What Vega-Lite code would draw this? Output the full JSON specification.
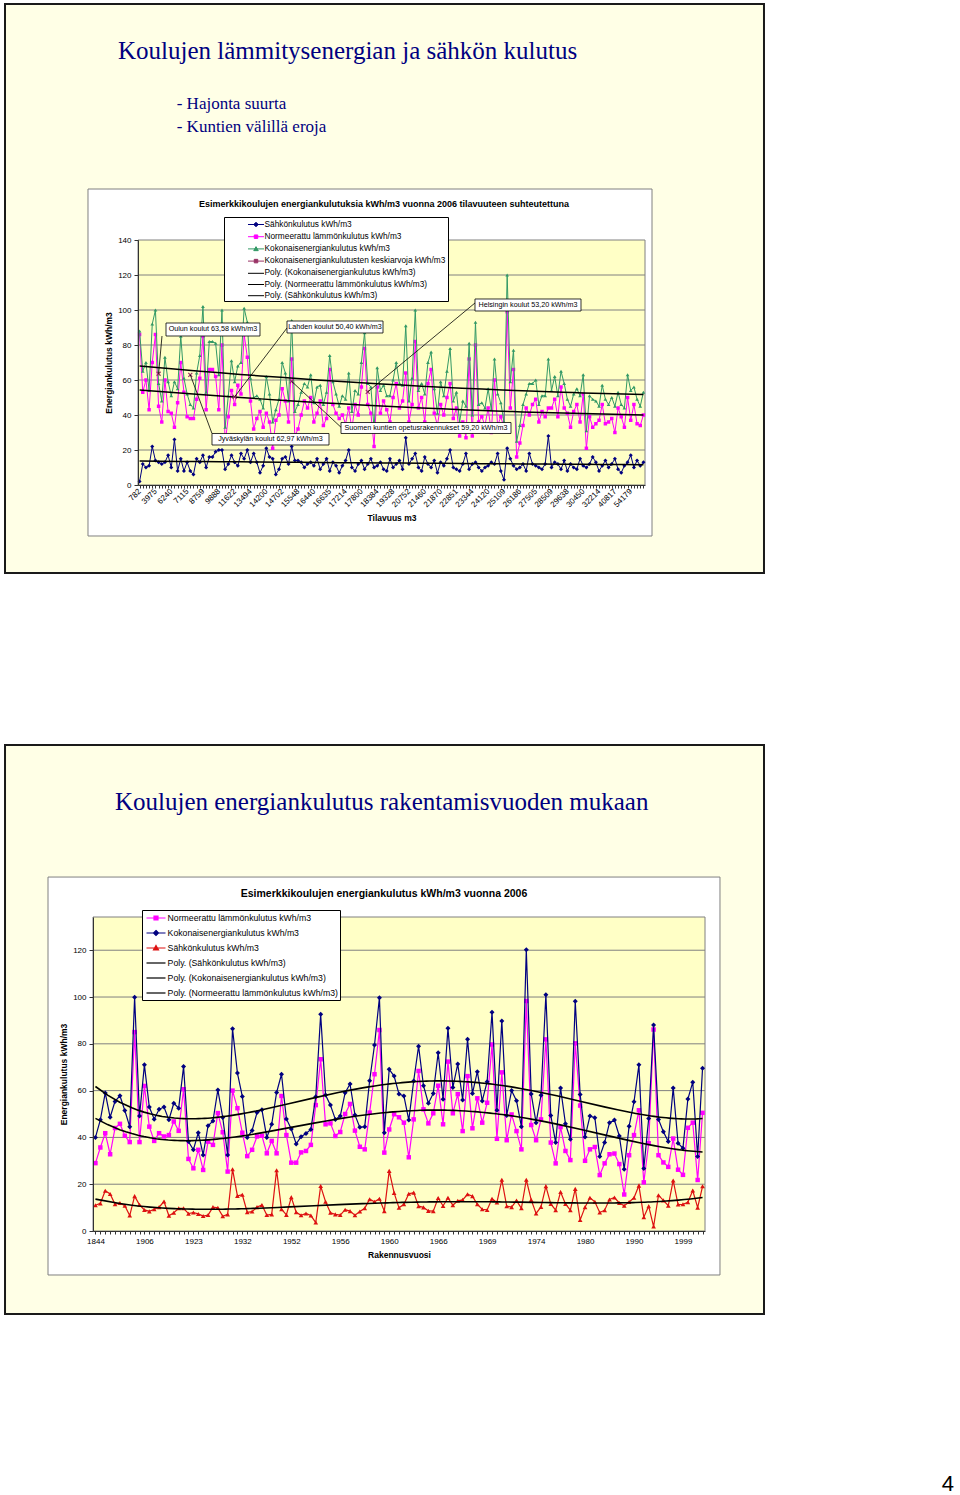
{
"$schema": "https://vega.github.io/schema/vega-lite/v6.json",
"background": "white",
"padding": {"left": 4, "top": 2, "right": 0, "bottom": 0},
"spacing": 169,
"columns": 1,
"config": {
  "view": {"stroke": null},
  "font": "Liberation Sans",
  "axis": {"zindex": 1, "grid": false, "labelOverlap": false, "labelColor": "#000", "titleColor": "#000", "titleFontWeight": "bold", "domainColor": "#333", "tickColor": "#333", "labelFont": "Liberation Sans", "titleFont": "Liberation Sans"}
},
"resolve": {"scale": {"color": "independent", "x": "independent", "y": "independent"}, "legend": {"color": "independent"}, "axis": {"x": "independent", "y": "independent"}},
"concat": [
{
  "width": 507, "height": 245,
  "data": {"values": [
{"i":0,"s":2,"l":86,"k":88},{"i":1,"s":12,"l":53,"k":65},{"i":2,"s":10,"l":60,"k":70},{"i":3,"s":11,"l":43,"k":54},{"i":4,"s":22,"l":70,"k":92},{"i":5,"s":14,"l":86,"k":100},{"i":6,"s":13,"l":45,"k":58},{"i":7,"s":12,"l":36,"k":48},{"i":8,"s":13,"l":60,"k":73},{"i":9,"s":17,"l":42,"k":59},
{"i":10,"s":10,"l":41,"k":51},{"i":11,"s":26,"l":33,"k":59},{"i":12,"s":8,"l":47,"k":55},{"i":13,"s":15,"l":70,"k":85},{"i":14,"s":8,"l":53,"k":61},{"i":15,"s":13,"l":39,"k":52},{"i":16,"s":8,"l":38,"k":46},{"i":17,"s":6,"l":38,"k":44},{"i":18,"s":15,"l":49,"k":64},{"i":19,"s":13,"l":61,"k":74},
{"i":20,"s":17,"l":85,"k":102},{"i":21,"s":10,"l":43,"k":53},{"i":22,"s":16,"l":66,"k":82},{"i":23,"s":16,"l":66,"k":82},{"i":24,"s":19,"l":62,"k":81},{"i":25,"s":20,"l":43,"k":63},{"i":26,"s":20,"l":80,"k":100},{"i":27,"s":9,"l":24,"k":33},{"i":28,"s":12,"l":39,"k":51},{"i":29,"s":17,"l":54,"k":71},
{"i":30,"s":13,"l":46,"k":59},{"i":31,"s":11,"l":57,"k":68},{"i":32,"s":18,"l":52,"k":70},{"i":33,"s":15,"l":86,"k":101},{"i":34,"s":20,"l":73,"k":93},{"i":35,"s":13,"l":48,"k":61},{"i":36,"s":18,"l":32,"k":50},{"i":37,"s":13,"l":38,"k":51},{"i":38,"s":7,"l":42,"k":49},{"i":39,"s":11,"l":33,"k":44},
{"i":40,"s":21,"l":41,"k":62},{"i":41,"s":16,"l":36,"k":52},{"i":42,"s":15,"l":21,"k":36},{"i":43,"s":6,"l":37,"k":43},{"i":44,"s":9,"l":40,"k":49},{"i":45,"s":15,"l":55,"k":70},{"i":46,"s":16,"l":48,"k":64},{"i":47,"s":12,"l":36,"k":48},{"i":48,"s":22,"l":72,"k":94},{"i":49,"s":14,"l":28,"k":42},
{"i":50,"s":14,"l":32,"k":46},{"i":51,"s":13,"l":40,"k":53},{"i":52,"s":10,"l":48,"k":58},{"i":53,"s":12,"l":44,"k":56},{"i":54,"s":13,"l":50,"k":63},{"i":55,"s":11,"l":36,"k":47},{"i":56,"s":15,"l":41,"k":56},{"i":57,"s":9,"l":48,"k":57},{"i":58,"s":12,"l":34,"k":46},{"i":59,"s":15,"l":38,"k":53},
{"i":60,"s":8,"l":66,"k":74},{"i":61,"s":13,"l":46,"k":59},{"i":62,"s":11,"l":41,"k":52},{"i":63,"s":7,"l":38,"k":45},{"i":64,"s":11,"l":40,"k":51},{"i":65,"s":14,"l":35,"k":49},{"i":66,"s":20,"l":44,"k":64},{"i":67,"s":10,"l":32,"k":42},{"i":68,"s":8,"l":46,"k":54},{"i":69,"s":12,"l":40,"k":52},
{"i":70,"s":14,"l":56,"k":70},{"i":71,"s":9,"l":78,"k":87},{"i":72,"s":12,"l":46,"k":58},{"i":73,"s":15,"l":41,"k":56},{"i":74,"s":10,"l":22,"k":32},{"i":75,"s":11,"l":56,"k":67},{"i":76,"s":13,"l":41,"k":54},{"i":77,"s":9,"l":48,"k":57},{"i":78,"s":8,"l":43,"k":51},{"i":79,"s":15,"l":36,"k":51},
{"i":80,"s":10,"l":50,"k":60},{"i":81,"s":12,"l":58,"k":70},{"i":82,"s":14,"l":44,"k":58},{"i":83,"s":9,"l":48,"k":57},{"i":84,"s":27,"l":64,"k":91},{"i":85,"s":12,"l":36,"k":48},{"i":86,"s":15,"l":46,"k":61},{"i":87,"s":18,"l":82,"k":100},{"i":88,"s":10,"l":44,"k":54},{"i":89,"s":8,"l":50,"k":58},
{"i":90,"s":16,"l":36,"k":52},{"i":91,"s":12,"l":58,"k":70},{"i":92,"s":10,"l":66,"k":76},{"i":93,"s":14,"l":41,"k":55},{"i":94,"s":7,"l":34,"k":41},{"i":95,"s":13,"l":46,"k":59},{"i":96,"s":11,"l":40,"k":51},{"i":97,"s":15,"l":50,"k":65},{"i":98,"s":20,"l":58,"k":78},{"i":99,"s":10,"l":38,"k":48},
{"i":100,"s":9,"l":44,"k":53},{"i":101,"s":8,"l":28,"k":36},{"i":102,"s":12,"l":36,"k":48},{"i":103,"s":18,"l":27,"k":45},{"i":104,"s":9,"l":72,"k":81},{"i":105,"s":12,"l":28,"k":40},{"i":106,"s":13,"l":80,"k":93},{"i":107,"s":10,"l":36,"k":46},{"i":108,"s":8,"l":39,"k":47},{"i":109,"s":10,"l":34,"k":44},
{"i":110,"s":11,"l":44,"k":55},{"i":111,"s":13,"l":30,"k":43},{"i":112,"s":12,"l":60,"k":72},{"i":113,"s":18,"l":34,"k":52},{"i":114,"s":8,"l":39,"k":47},{"i":115,"s":3,"l":33,"k":36},{"i":116,"s":21,"l":99,"k":120},{"i":117,"s":15,"l":44,"k":59},{"i":118,"s":11,"l":66,"k":77},{"i":119,"s":9,"l":16,"k":25},
{"i":120,"s":10,"l":24,"k":34},{"i":121,"s":12,"l":34,"k":46},{"i":122,"s":8,"l":44,"k":52},{"i":123,"s":18,"l":40,"k":58},{"i":124,"s":12,"l":46,"k":58},{"i":125,"s":11,"l":49,"k":60},{"i":126,"s":10,"l":36,"k":46},{"i":127,"s":9,"l":42,"k":51},{"i":128,"s":12,"l":39,"k":51},{"i":129,"s":28,"l":44,"k":72},
{"i":130,"s":10,"l":44,"k":54},{"i":131,"s":13,"l":49,"k":62},{"i":132,"s":12,"l":39,"k":51},{"i":133,"s":9,"l":56,"k":65},{"i":134,"s":14,"l":44,"k":58},{"i":135,"s":8,"l":41,"k":49},{"i":136,"s":12,"l":33,"k":45},{"i":137,"s":10,"l":42,"k":52},{"i":138,"s":9,"l":46,"k":55},{"i":139,"s":15,"l":36,"k":51},
{"i":140,"s":11,"l":52,"k":63},{"i":141,"s":10,"l":21,"k":31},{"i":142,"s":12,"l":39,"k":51},{"i":143,"s":16,"l":33,"k":49},{"i":144,"s":13,"l":35,"k":48},{"i":145,"s":8,"l":37,"k":45},{"i":146,"s":11,"l":46,"k":57},{"i":147,"s":14,"l":35,"k":49},{"i":148,"s":10,"l":36,"k":46},{"i":149,"s":12,"l":38,"k":50},
{"i":150,"s":15,"l":30,"k":45},{"i":151,"s":9,"l":44,"k":53},{"i":152,"s":7,"l":39,"k":46},{"i":153,"s":11,"l":33,"k":44},{"i":154,"s":13,"l":50,"k":63},{"i":155,"s":17,"l":37,"k":54},{"i":156,"s":10,"l":46,"k":56},{"i":157,"s":14,"l":35,"k":49},{"i":158,"s":11,"l":34,"k":45},{"i":159,"s":13,"l":40,"k":53}
  ]},
  "layer": [
    {"data": {"values": [{}]}, "mark": {"type": "rect", "fill": "#FFFFE6", "stroke": "#1a1a1a", "strokeWidth": 2},
     "encoding": {
       "x": {"datum": -42.47, "type": "quantitative", "scale": {"domain": [-0.5, 159.5], "nice": false, "zero": false}},
       "x2": {"datum": 197.05},
       "y": {"datum": 274.86, "type": "quantitative", "scale": {"domain": [0, 140], "nice": false, "zero": false}},
       "y2": {"datum": -50.29}
     }},
    {"data": {"values": [{}]}, "mark": {"type": "rect", "fill": "#ffffff", "stroke": "#808080", "strokeWidth": 1},
     "encoding": {"x": {"datum": -16.28, "type": "quantitative"}, "x2": {"datum": 161.71}, "y": {"datum": 169.14, "type": "quantitative"}, "y2": {"datum": -29.14}}},
    {"data": {"values": [{}]}, "mark": {"type": "rect", "fill": "#FFFFC6", "stroke": "#808080", "strokeWidth": 1},
     "encoding": {"x": {"datum": -0.5, "type": "quantitative"}, "x2": {"datum": 159.5}, "y": {"datum": 0, "type": "quantitative"}, "y2": {"datum": 140}}},
    {"data": {"values": [{"g": 20}, {"g": 40}, {"g": 60}, {"g": 80}, {"g": 100}, {"g": 120}]}, "mark": {"type": "rule", "color": "#808080", "strokeWidth": 1},
     "encoding": {"y": {"field": "g", "type": "quantitative"}}},
    {"data": {"values": [{}]}, "mark": {"type": "text", "text": "Koulujen lämmitysenergian ja sähkön kulutus", "font": "Liberation Serif", "fontSize": 25, "color": "#000080", "align": "left", "baseline": "alphabetic"},
     "encoding": {"x": {"datum": -6.81, "type": "quantitative"}, "y": {"datum": 243.26, "type": "quantitative"}}},
    {"data": {"values": [{}]}, "mark": {"type": "text", "text": "- Hajonta suurta", "font": "Liberation Serif", "fontSize": 17, "color": "#000080", "align": "left", "baseline": "alphabetic"},
     "encoding": {"x": {"datum": 11.71, "type": "quantitative"}, "y": {"datum": 214.69, "type": "quantitative"}}},
    {"data": {"values": [{}]}, "mark": {"type": "text", "text": "- Kuntien välillä eroja", "font": "Liberation Serif", "fontSize": 17, "color": "#000080", "align": "left", "baseline": "alphabetic"},
     "encoding": {"x": {"datum": 11.71, "type": "quantitative"}, "y": {"datum": 201.71, "type": "quantitative"}}},
    {"data": {"values": [{}]}, "mark": {"type": "text", "text": "Esimerkkikoulujen energiankulutuksia kWh/m3 vuonna 2006 tilavuuteen suhteutettuna", "fontSize": 9, "fontWeight": "bold", "color": "#000", "align": "center", "baseline": "middle"},
     "encoding": {"x": {"datum": 77.13, "type": "quantitative"}, "y": {"datum": 160.57, "type": "quantitative"}}},
    {"mark": {"type": "line", "strokeWidth": 1, "point": {"filled": true, "shape": "diamond", "size": 16}},
     "encoding": {
       "x": {"field": "i", "type": "quantitative",
             "axis": {"zindex": 1, "title": "Tilavuus m3", "titleFontSize": 8.5, "titlePadding": 5, "tickCount": 1000, "values": [0,1,2,3,4,5,6,7,8,9,10,11,12,13,14,15,16,17,18,19,20,21,22,23,24,25,26,27,28,29,30,31,32,33,34,35,36,37,38,39,40,41,42,43,44,45,46,47,48,49,50,51,52,53,54,55,56,57,58,59,60,61,62,63,64,65,66,67,68,69,70,71,72,73,74,75,76,77,78,79,80,81,82,83,84,85,86,87,88,89,90,91,92,93,94,95,96,97,98,99,100,101,102,103,104,105,106,107,108,109,110,111,112,113,114,115,116,117,118,119,120,121,122,123,124,125,126,127,128,129,130,131,132,133,134,135,136,137,138,139,140,141,142,143,144,145,146,147,148,149,150,151,152,153,154,155,156,157,158,159],
                      "labelExpr": "datum.value % 5 == 0 ? ['782','3975','6240','7115','8759','9888','11622','13494','14200','14702','15548','16440','16635','17214','17800','18384','19328','20752','21460','21870','22851','23344','24120','25109','26186','27505','28509','29638','30450','32214','40817','54179'][datum.value/5] : ''",
                      "labelAngle": -45, "labelAlign": "right", "labelBaseline": "middle", "labelFontSize": 8, "labelOverlap": false, "labelBound": false, "labelFlush": false, "tickSize": 3, "labelPadding": 2, "grid": false}},
       "y": {"field": "s", "type": "quantitative",
             "axis": {"zindex": 1, "title": "Energiankulutus kWh/m3", "titleFontSize": 8.5, "titlePadding": 4, "tickCount": 1000, "format": "d", "values": [0,20,40,60,80,100,120,140], "labelFontSize": 8, "labelOverlap": false, "tickSize": 4, "labelPadding": 3, "grid": false}},
       "color": {"datum": "Sähkönkulutus kWh/m3",
         "scale": {"domain": ["Sähkönkulutus kWh/m3", "Normeerattu lämmönkulutus kWh/m3", "Kokonaisenergiankulutus kWh/m3", "Kokonaisenergiankulutusten keskiarvoja kWh/m3", "Poly. (Kokonaisenergiankulutus kWh/m3)", "Poly. (Normeerattu lämmönkulutus kWh/m3)", "Poly. (Sähkönkulutus kWh/m3)"],
                   "range": ["#000080", "#ff00ff", "#339966", "#993366", "#000000", "#000000", "#000000"]},
         "legend": {"orient": "none", "legendX": 86, "legendY": -23, "title": null, "direction": "vertical", "strokeColor": "#000", "fillColor": "#fff", "padding": 2, "rowPadding": 2.2, "symbolSize": 100, "symbolStrokeWidth": 1, "symbolOffset": 24.5, "labelOffset": 3, "labelFontSize": 8.3, "labelLimit": 500, "labelColor": "#000", "zindex": 2,
           "encode": {"symbols": {"update": {
             "shape": {"signal": "['M-1.6,0H1.6M0,-0.45L0.45,0L0,0.45L-0.45,0Z','M-1.6,0H1.6M-0.35,-0.35H0.35V0.35H-0.35Z','M-1.6,0H1.6M0,-0.45L0.45,0.35H-0.45Z','M-1.6,0H1.6M-0.35,-0.35H0.35V0.35H-0.35Z','M-1.6,0H1.6','M-1.6,0H1.6','M-1.6,0H1.6'][datum.index]"},
             "fill": {"signal": "['#000080','#ff00ff','#339966','#993366','#000000','#000000','#000000'][datum.index]"},
             "stroke": {"signal": "['#000080','#ff00ff','#339966','#993366','#000000','#000000','#000000'][datum.index]"},
             "strokeWidth": {"value": 1}, "opacity": {"value": 1}}}}}}}},
    {"mark": {"type": "line", "strokeWidth": 1, "point": {"filled": true, "shape": "square", "size": 12}},
     "encoding": {"x": {"field": "i", "type": "quantitative"}, "y": {"field": "l", "type": "quantitative"}, "color": {"datum": "Normeerattu lämmönkulutus kWh/m3"}}},
    {"mark": {"type": "line", "strokeWidth": 1, "point": {"filled": true, "shape": "triangle-up", "size": 14}},
     "encoding": {"x": {"field": "i", "type": "quantitative"}, "y": {"field": "k", "type": "quantitative"}, "color": {"datum": "Kokonaisenergiankulutus kWh/m3"}}},
    {"transform": [{"regression": "k", "on": "i", "method": "poly", "order": 2}], "mark": {"type": "line", "strokeWidth": 1.5},
     "encoding": {"x": {"field": "i", "type": "quantitative"}, "y": {"field": "k", "type": "quantitative"}, "color": {"datum": "Poly. (Kokonaisenergiankulutus kWh/m3)"}}},
    {"transform": [{"regression": "l", "on": "i", "method": "poly", "order": 2}], "mark": {"type": "line", "strokeWidth": 1.5},
     "encoding": {"x": {"field": "i", "type": "quantitative"}, "y": {"field": "l", "type": "quantitative"}, "color": {"datum": "Poly. (Normeerattu lämmönkulutus kWh/m3)"}}},
    {"transform": [{"regression": "s", "on": "i", "method": "poly", "order": 2}], "mark": {"type": "line", "strokeWidth": 1.5},
     "encoding": {"x": {"field": "i", "type": "quantitative"}, "y": {"field": "s", "type": "quantitative"}, "color": {"datum": "Poly. (Sähkönkulutus kWh/m3)"}}},
    {"data": {"values": [{"i": 6, "v": 63.58}, {"i": 16, "v": 62.97}, {"i": 30, "v": 50.40}, {"i": 48, "v": 59.20}, {"i": 72, "v": 53.20}]},
     "mark": {"type": "point", "shape": "M-1,-1L1,1M-1,1L1,-1", "size": 16, "filled": false, "strokeWidth": 1.2, "opacity": 1},
     "encoding": {"x": {"field": "i", "type": "quantitative"}, "y": {"field": "v", "type": "quantitative"}, "color": {"datum": "Kokonaisenergiankulutusten keskiarvoja kWh/m3"}}},
    {"data": {"values": [{}]}, "mark": {"type": "rule", "color": "#000", "strokeWidth": 0.8},
     "encoding": {"x": {"datum": 6, "type": "quantitative"}, "y": {"datum": 63.58, "type": "quantitative"}, "x2": {"datum": 7.07}, "y2": {"datum": 85.14}}},
    {"data": {"values": [{}]}, "mark": {"type": "rect", "fill": "#fff", "stroke": "#000", "strokeWidth": 0.8},
     "encoding": {"x": {"datum": 8.34, "type": "quantitative"}, "x2": {"datum": 38.0}, "y": {"datum": 92.57, "type": "quantitative"}, "y2": {"datum": 85.14}}},
    {"data": {"values": [{}]}, "mark": {"type": "text", "text": "Oulun koulut 63,58 kWh/m3", "fontSize": 7.2, "color": "#000", "align": "center", "baseline": "middle"},
     "encoding": {"x": {"datum": 23.17, "type": "quantitative"}, "y": {"datum": 88.86, "type": "quantitative"}}},
    {"data": {"values": [{}]}, "mark": {"type": "rule", "color": "#000", "strokeWidth": 0.8},
     "encoding": {"x": {"datum": 16, "type": "quantitative"}, "y": {"datum": 62.97, "type": "quantitative"}, "x2": {"datum": 22.85}, "y2": {"datum": 29.43}}},
    {"data": {"values": [{}]}, "mark": {"type": "rect", "fill": "#fff", "stroke": "#000", "strokeWidth": 0.8},
     "encoding": {"x": {"datum": 22.85, "type": "quantitative"}, "x2": {"datum": 59.78}, "y": {"datum": 29.43, "type": "quantitative"}, "y2": {"datum": 22.86}}},
    {"data": {"values": [{}]}, "mark": {"type": "text", "text": "Jyväskylän koulut 62,97 kWh/m3", "fontSize": 7.2, "color": "#000", "align": "center", "baseline": "middle"},
     "encoding": {"x": {"datum": 41.31, "type": "quantitative"}, "y": {"datum": 26.17, "type": "quantitative"}}},
    {"data": {"values": [{}]}, "mark": {"type": "rule", "color": "#000", "strokeWidth": 0.8},
     "encoding": {"x": {"datum": 30, "type": "quantitative"}, "y": {"datum": 50.4, "type": "quantitative"}, "x2": {"datum": 46.52}, "y2": {"datum": 89.71}}},
    {"data": {"values": [{}]}, "mark": {"type": "rect", "fill": "#fff", "stroke": "#000", "strokeWidth": 0.8},
     "encoding": {"x": {"datum": 46.52, "type": "quantitative"}, "x2": {"datum": 76.82}, "y": {"datum": 93.71, "type": "quantitative"}, "y2": {"datum": 86.86}}},
    {"data": {"values": [{}]}, "mark": {"type": "text", "text": "Lahden koulut 50,40 kWh/m3", "fontSize": 7.2, "color": "#000", "align": "center", "baseline": "middle"},
     "encoding": {"x": {"datum": 61.67, "type": "quantitative"}, "y": {"datum": 90.29, "type": "quantitative"}}},
    {"data": {"values": [{}]}, "mark": {"type": "rule", "color": "#000", "strokeWidth": 0.8},
     "encoding": {"x": {"datum": 48, "type": "quantitative"}, "y": {"datum": 59.2, "type": "quantitative"}, "x2": {"datum": 63.56}, "y2": {"datum": 33.0}}},
    {"data": {"values": [{}]}, "mark": {"type": "rect", "fill": "#fff", "stroke": "#000", "strokeWidth": 0.8},
     "encoding": {"x": {"datum": 63.56, "type": "quantitative"}, "x2": {"datum": 117.21}, "y": {"datum": 35.71, "type": "quantitative"}, "y2": {"datum": 29.43}}},
    {"data": {"values": [{}]}, "mark": {"type": "text", "text": "Suomen kuntien opetusrakennukset 59,20 kWh/m3", "fontSize": 7.2, "color": "#000", "align": "center", "baseline": "middle"},
     "encoding": {"x": {"datum": 90.39, "type": "quantitative"}, "y": {"datum": 32.57, "type": "quantitative"}}},
    {"data": {"values": [{}]}, "mark": {"type": "rule", "color": "#000", "strokeWidth": 0.8},
     "encoding": {"x": {"datum": 72, "type": "quantitative"}, "y": {"datum": 53.2, "type": "quantitative"}, "x2": {"datum": 105.85}, "y2": {"datum": 104.0}}},
    {"data": {"values": [{}]}, "mark": {"type": "rect", "fill": "#fff", "stroke": "#000", "strokeWidth": 0.8},
     "encoding": {"x": {"datum": 105.85, "type": "quantitative"}, "x2": {"datum": 139.3}, "y": {"datum": 106.29, "type": "quantitative"}, "y2": {"datum": 99.43}}},
    {"data": {"values": [{}]}, "mark": {"type": "text", "text": "Helsingin koulut 53,20 kWh/m3", "fontSize": 7.2, "color": "#000", "align": "center", "baseline": "middle"},
     "encoding": {"x": {"datum": 122.58, "type": "quantitative"}, "y": {"datum": 102.86, "type": "quantitative"}}}
  ]
},
{
  "width": 567, "height": 314,
  "data": {"values": [
{"i":0,"t":40,"h":29,"e":11},{"i":1,"t":47.5,"h":35.7,"e":11.8},{"i":2,"t":59,"h":41.8,"e":17.2},{"i":3,"t":48.6,"h":32.8,"e":15.8},{"i":4,"t":55.4,"h":44,"e":11.4},{"i":5,"t":57.8,"h":45.8,"e":12},{"i":6,"t":51.5,"h":40.7,"e":10.8},{"i":7,"t":44.6,"h":38,"e":6.6},{"i":8,"t":99.9,"h":85,"e":14.9},{"i":9,"t":49.2,"h":38,"e":11.2},
{"i":10,"t":71,"h":62,"e":9},{"i":11,"t":53,"h":44.6,"e":8.4},{"i":12,"t":47.8,"h":38.5,"e":9.3},{"i":13,"t":52,"h":41.8,"e":10.2},{"i":14,"t":53,"h":40.4,"e":12.6},{"i":15,"t":47.5,"h":41,"e":6.5},{"i":16,"t":54.6,"h":46.8,"e":7.8},{"i":17,"t":52.5,"h":42.8,"e":9.7},{"i":18,"t":70.3,"h":60.6,"e":9.7},{"i":19,"t":38.2,"h":30.8,"e":7.4},
{"i":20,"t":34.7,"h":26.8,"e":7.9},{"i":21,"t":42,"h":34.7,"e":7.3},{"i":22,"t":32.5,"h":26.1,"e":6.4},{"i":23,"t":45,"h":38.2,"e":6.8},{"i":24,"t":47,"h":36.8,"e":10.2},{"i":25,"t":60.3,"h":50.4,"e":9.9},{"i":26,"t":48.5,"h":42.2,"e":6.3},{"i":27,"t":32.5,"h":25.4,"e":7.1},{"i":28,"t":86.4,"h":60,"e":26.4},{"i":29,"t":67.5,"h":52.5,"e":15},
{"i":30,"t":57.5,"h":42,"e":15.5},{"i":31,"t":40,"h":32,"e":8},{"i":32,"t":43,"h":34.7,"e":8.3},{"i":33,"t":50.6,"h":40.4,"e":10.2},{"i":34,"t":51.8,"h":40.7,"e":11.1},{"i":35,"t":40,"h":33.2,"e":6.8},{"i":36,"t":45.6,"h":38.5,"e":7.1},{"i":37,"t":59.2,"h":33.2,"e":26},{"i":38,"t":67,"h":57.7,"e":9.3},{"i":39,"t":47.9,"h":41,"e":6.9},
{"i":40,"t":43.6,"h":29.2,"e":14.4},{"i":41,"t":37.2,"h":29.2,"e":8},{"i":42,"t":40.3,"h":33.6,"e":6.7},{"i":43,"t":41.7,"h":34.2,"e":7.5},{"i":44,"t":43.4,"h":36.8,"e":6.6},{"i":45,"t":57.4,"h":53.8,"e":3.6},{"i":46,"t":92.6,"h":73.4,"e":19.2},{"i":47,"t":58.1,"h":45.6,"e":12.5},{"i":48,"t":53.8,"h":46,"e":7.8},{"i":49,"t":47.7,"h":40.6,"e":7.1},
{"i":50,"t":49.1,"h":42.3,"e":6.8},{"i":51,"t":59.1,"h":50,"e":9.1},{"i":52,"t":62.8,"h":54.3,"e":8.5},{"i":53,"t":49.6,"h":42.9,"e":6.7},{"i":54,"t":44.3,"h":36,"e":8.3},{"i":55,"t":44.6,"h":34.9,"e":9.7},{"i":56,"t":64.2,"h":50.6,"e":13.6},{"i":57,"t":79.5,"h":67,"e":12.5},{"i":58,"t":99.7,"h":85.9,"e":13.8},{"i":59,"t":42,"h":33.5,"e":8.5},
{"i":60,"t":69.1,"h":43.4,"e":25.7},{"i":61,"t":66.2,"h":49.9,"e":16.3},{"i":62,"t":58.5,"h":48.6,"e":9.9},{"i":63,"t":57.7,"h":46.3,"e":11.4},{"i":64,"t":47.4,"h":31.5,"e":15.9},{"i":65,"t":64.1,"h":47.7,"e":16.4},{"i":66,"t":79,"h":68.4,"e":10.6},{"i":67,"t":62.1,"h":52,"e":10.1},{"i":68,"t":54.6,"h":46,"e":8.6},{"i":69,"t":58.8,"h":50.3,"e":8.5},
{"i":70,"t":76.2,"h":62.1,"e":14.1},{"i":71,"t":56.3,"h":45.6,"e":10.7},{"i":72,"t":86.6,"h":72.4,"e":14.2},{"i":73,"t":61.3,"h":50.3,"e":11},{"i":74,"t":71.4,"h":58.5,"e":12.9},{"i":75,"t":56,"h":42.7,"e":13.3},{"i":76,"t":81.9,"h":66.2,"e":15.7},{"i":77,"t":58.8,"h":43.9,"e":14.9},{"i":78,"t":68.1,"h":56.7,"e":11.4},{"i":79,"t":55.6,"h":46.3,"e":9.3},
{"i":80,"t":63.8,"h":54.8,"e":9},{"i":81,"t":93.5,"h":79.7,"e":13.8},{"i":82,"t":51.6,"h":39.4,"e":12.2},{"i":83,"t":89.7,"h":67.8,"e":21.9},{"i":84,"t":49.4,"h":38.8,"e":10.6},{"i":85,"t":60,"h":49.8,"e":10.2},{"i":86,"t":55.7,"h":42.7,"e":13},{"i":87,"t":44.6,"h":34.9,"e":9.7},{"i":88,"t":120.2,"h":98.3,"e":21.9},{"i":89,"t":58.6,"h":45.3,"e":13.3},
{"i":90,"t":46.3,"h":38.8,"e":7.5},{"i":91,"t":58,"h":47.7,"e":10.3},{"i":92,"t":101,"h":81.9,"e":19.1},{"i":93,"t":49.4,"h":37.8,"e":11.6},{"i":94,"t":37.8,"h":28.9,"e":8.9},{"i":95,"t":61.1,"h":44.4,"e":16.7},{"i":96,"t":45.8,"h":34.2,"e":11.6},{"i":97,"t":39.2,"h":30.3,"e":8.9},{"i":98,"t":98.2,"h":80.2,"e":18},{"i":99,"t":58.3,"h":53.6,"e":4.7},
{"i":100,"t":40.2,"h":30,"e":10.2},{"i":101,"t":49.1,"h":34.9,"e":14.2},{"i":102,"t":48.4,"h":35.9,"e":12.5},{"i":103,"t":31.8,"h":23.9,"e":7.9},{"i":104,"t":37.8,"h":28.9,"e":8.9},{"i":105,"t":46.3,"h":32.8,"e":13.5},{"i":106,"t":47.4,"h":33.1,"e":14.3},{"i":107,"t":40.6,"h":28.6,"e":12},{"i":108,"t":26.4,"h":15.6,"e":10.8},{"i":109,"t":44.8,"h":32.4,"e":12.4},
{"i":110,"t":55.2,"h":41,"e":14.2},{"i":111,"t":71,"h":51.6,"e":19.4},{"i":112,"t":26.7,"h":20.8,"e":5.9},{"i":113,"t":48.1,"h":37.5,"e":10.6},{"i":114,"t":88,"h":86.1,"e":1.9},{"i":115,"t":47.7,"h":32.4,"e":15.3},{"i":116,"t":42.4,"h":29.3,"e":13.1},{"i":117,"t":38.2,"h":27.4,"e":10.8},{"i":118,"t":61.1,"h":39.5,"e":21.6},{"i":119,"t":37.5,"h":26.2,"e":11.3},
{"i":120,"t":35.4,"h":24,"e":11.4},{"i":121,"t":56.4,"h":44.1,"e":12.3},{"i":122,"t":63.6,"h":46.3,"e":17.3},{"i":123,"t":31.8,"h":21.8,"e":10},{"i":124,"t":69.6,"h":50.5,"e":19.1}
  ]},
  "layer": [
    {"data": {"values": [{}]}, "mark": {"type": "rect", "fill": "#FFFFE6", "stroke": "#1a1a1a", "strokeWidth": 2},
     "encoding": {
       "x": {"datum": -18.47, "type": "quantitative", "scale": {"domain": [-0.5, 124.5], "range": [-45, 567], "nice": false, "zero": false}},
       "x2": {"datum": 136.55},
       "y": {"datum": 207.69, "type": "quantitative", "scale": {"domain": [0, 134.2], "nice": false, "zero": false}},
       "y2": {"datum": -35.47}
     }},
    {"data": {"values": [{}]}, "mark": {"type": "rect", "fill": "#ffffff", "stroke": "#808080", "strokeWidth": 1},
     "encoding": {"x": {"datum": -9.69, "type": "quantitative"}, "x2": {"datum": 127.56}, "y": {"datum": 151.28, "type": "quantitative"}, "y2": {"datum": -18.8}}},
    {"data": {"values": [{}]}, "mark": {"type": "rect", "fill": "#FFFFC6", "stroke": "#808080", "strokeWidth": 1},
     "encoding": {"x": {"datum": -0.5, "type": "quantitative"}, "x2": {"datum": 124.5}, "y": {"datum": 0, "type": "quantitative"}, "y2": {"datum": 134.2}}},
    {"data": {"values": [{"g": 20}, {"g": 40}, {"g": 60}, {"g": 80}, {"g": 100}, {"g": 120}]}, "mark": {"type": "rule", "color": "#808080", "strokeWidth": 1},
     "encoding": {"x": {"datum": -0.5, "type": "quantitative"}, "x2": {"datum": 124.5}, "y": {"field": "g", "type": "quantitative"}}},
    {"data": {"values": [{}]}, "mark": {"type": "text", "text": "Koulujen energiankulutus rakentamisvuoden mukaan", "font": "Liberation Serif", "fontSize": 25, "color": "#000080", "align": "left", "baseline": "alphabetic"},
     "encoding": {"x": {"datum": 3.99, "type": "quantitative"}, "y": {"datum": 179.79, "type": "quantitative"}}},
    {"data": {"values": [{}]}, "mark": {"type": "text", "text": "Esimerkkikoulujen energiankulutus kWh/m3 vuonna 2006", "fontSize": 10.5, "fontWeight": "bold", "color": "#000", "align": "center", "baseline": "middle"},
     "encoding": {"x": {"datum": 58.94, "type": "quantitative"}, "y": {"datum": 144.02, "type": "quantitative"}}},
    {"data": {"values": [{}]}, "mark": {"type": "text", "text": "4", "fontSize": 22, "color": "#000", "align": "center", "baseline": "alphabetic"},
     "encoding": {"x": {"datum": 174.13, "type": "quantitative"}, "y": {"datum": -111.11, "type": "quantitative"}}},
    {"mark": {"type": "line", "strokeWidth": 1.2, "point": {"filled": true, "shape": "square", "size": 20}},
     "encoding": {
       "x": {"field": "i", "type": "quantitative",
             "axis": {"zindex": 1, "title": "Rakennusvuosi", "titleFontSize": 8.5, "titlePadding": 5, "tickCount": 1000, "values": [0,1,2,3,4,5,6,7,8,9,10,11,12,13,14,15,16,17,18,19,20,21,22,23,24,25,26,27,28,29,30,31,32,33,34,35,36,37,38,39,40,41,42,43,44,45,46,47,48,49,50,51,52,53,54,55,56,57,58,59,60,61,62,63,64,65,66,67,68,69,70,71,72,73,74,75,76,77,78,79,80,81,82,83,84,85,86,87,88,89,90,91,92,93,94,95,96,97,98,99,100,101,102,103,104,105,106,107,108,109,110,111,112,113,114,115,116,117,118,119,120,121,122,123,124],
                      "labelExpr": "datum.value % 10 == 0 ? ['1844','1906','1923','1932','1952','1956','1960','1966','1969','1974','1980','1990','1999'][datum.value/10] : ''",
                      "labelAngle": 0, "labelAlign": "center", "labelBaseline": "top", "labelFontSize": 8, "labelOverlap": false, "labelBound": false, "labelFlush": false, "tickSize": 3, "labelPadding": 3, "grid": false}},
       "y": {"field": "h", "type": "quantitative",
             "axis": {"zindex": 1, "offset": 45, "title": "Energiankulutus kWh/m3", "titleFontSize": 8.5, "titlePadding": 4, "tickCount": 1000, "format": "d", "values": [0,20,40,60,80,100,120], "labelFontSize": 8, "labelOverlap": false, "tickSize": 4, "labelPadding": 3, "grid": false}},
       "color": {"datum": "Normeerattu lämmönkulutus kWh/m3",
         "scale": {"domain": ["Normeerattu lämmönkulutus kWh/m3", "Kokonaisenergiankulutus kWh/m3", "Sähkönkulutus kWh/m3", "Poly. (Sähkönkulutus kWh/m3)", "Poly. (Kokonaisenergiankulutus kWh/m3)", "Poly. (Normeerattu lämmönkulutus kWh/m3)"],
                   "range": ["#ff00ff", "#000080", "#dd1111", "#000000", "#000000", "#000000"]},
         "legend": {"orient": "none", "legendX": 4, "legendY": -7, "title": null, "direction": "vertical", "strokeColor": "#000", "fillColor": "#fff", "padding": 2, "rowPadding": 4, "symbolSize": 100, "symbolStrokeWidth": 1, "symbolOffset": 6, "labelOffset": 5.6, "labelFontSize": 8.7, "labelLimit": 500, "labelColor": "#000", "zindex": 2,
           "encode": {"symbols": {"update": {
             "shape": {"signal": "['M-1.9,0H1.9M-0.4,-0.4H0.4V0.4H-0.4Z','M-1.9,0H1.9M0,-0.5L0.5,0L0,0.5L-0.5,0Z','M-1.9,0H1.9M0,-0.5L0.5,0.4H-0.5Z','M-1.9,0H1.9','M-1.9,0H1.9','M-1.9,0H1.9'][datum.index]"},
             "fill": {"signal": "['#ff00ff','#000080','#dd1111','#000000','#000000','#000000'][datum.index]"},
             "stroke": {"signal": "['#ff00ff','#000080','#dd1111','#333333','#333333','#333333'][datum.index]"},
             "strokeWidth": {"value": 1.2}, "opacity": {"value": 1}}}}}}}},
    {"mark": {"type": "line", "strokeWidth": 1.2, "point": {"filled": true, "shape": "diamond", "size": 25}},
     "encoding": {"x": {"field": "i", "type": "quantitative"}, "y": {"field": "t", "type": "quantitative"}, "color": {"datum": "Kokonaisenergiankulutus kWh/m3"}}},
    {"mark": {"type": "line", "strokeWidth": 1.2, "point": {"filled": true, "shape": "triangle-up", "size": 22}},
     "encoding": {"x": {"field": "i", "type": "quantitative"}, "y": {"field": "e", "type": "quantitative"}, "color": {"datum": "Sähkönkulutus kWh/m3"}}},
    {"transform": [{"regression": "e", "on": "i", "method": "poly", "order": 4}], "mark": {"type": "line", "strokeWidth": 1.6},
     "encoding": {"x": {"field": "i", "type": "quantitative"}, "y": {"field": "e", "type": "quantitative"}, "color": {"datum": "Poly. (Sähkönkulutus kWh/m3)"}}},
    {"transform": [{"regression": "t", "on": "i", "method": "poly", "order": 4}], "mark": {"type": "line", "strokeWidth": 1.6},
     "encoding": {"x": {"field": "i", "type": "quantitative"}, "y": {"field": "t", "type": "quantitative"}, "color": {"datum": "Poly. (Kokonaisenergiankulutus kWh/m3)"}}},
    {"transform": [{"regression": "h", "on": "i", "method": "poly", "order": 4}], "mark": {"type": "line", "strokeWidth": 1.6},
     "encoding": {"x": {"field": "i", "type": "quantitative"}, "y": {"field": "h", "type": "quantitative"}, "color": {"datum": "Poly. (Normeerattu lämmönkulutus kWh/m3)"}}}
  ]
}
]
}
